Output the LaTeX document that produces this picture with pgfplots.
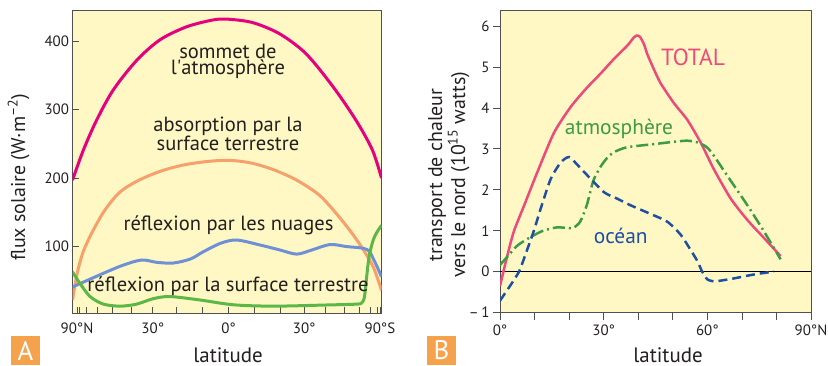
\documentclass[border=0pt]{standalone}
\usepackage{fontspec}
\setmainfont{PT Sans}
\newfontfamily\plainfont{PT Sans}
\usepackage{pgfplots}
\pgfplotsset{compat=1.18}
\definecolor{bg}{HTML}{FFF8C4}
\definecolor{magA}{HTML}{E5007D}
\definecolor{oraA}{HTML}{F6A06C}
\definecolor{bluA}{HTML}{7090D5}
\definecolor{grnA}{HTML}{5BB847}
\definecolor{pinkB}{HTML}{EB4A7B}
\definecolor{grnB}{HTML}{3D9B47}
\definecolor{bluB}{HTML}{1E4FA3}
\definecolor{txt}{HTML}{231F20}
\definecolor{axgray}{HTML}{505050}
\definecolor{labor}{HTML}{F6A24C}
\newcommand{\annot}{\fontsize{20.6}{16}\selectfont}
\newcommand{\annotB}{\fontsize{21.5}{21.5}\selectfont}
\newcommand{\tickf}{\fontsize{15}{15}\selectfont}
\begin{document}
\begin{tikzpicture}[x=1bp,y=1bp]
\useasboundingbox (0,0) rectangle (828,365);
% ---------------- Panel A
\begin{axis}[at={(72.5bp,52bp)}, anchor=south west, scale only axis,
  width=309bp, height=302bp,
  xmin=-1.03, xmax=1.01, ymin=3, ymax=444,
  axis background/.style={fill=bg},
  axis line style={draw=axgray, line width=1bp},
  tick align=inside, tick pos=left, major tick length=6bp,
  tick style={axgray, line width=0.8bp},
  xtick={-1,-0.98481,-0.93969,-0.86603,-0.76604,-0.64279,-0.5,-0.34202,-0.17365,0,0.17365,0.34202,0.5,0.64279,0.76604,0.86603,0.93969,0.98481,1},
  xticklabels={90°N,,,,,,30°,,,0°,,,30°,,,,,,90°S},
  ytick={100,200,300,400}, yticklabels={100,200,300,400},
  ticklabel style={font=\tickf, text=txt},
  xticklabel style={yshift=-6bp},
]
\addplot[magA, line width=3bp, smooth] coordinates {
(-1.03,197)(-0.958,241)(-0.87,285)(-0.76,329)(-0.606,372)(-0.452,402)(-0.276,421)(-0.1,431)(0,432)(0.16,427)(0.335,411)(0.51,382)(0.688,334)(0.84,285)(0.95,241)(1.01,200)};
\addplot[oraA, line width=3bp, smooth] coordinates {
(-1.03,22)(-1.0,60)(-0.96,92)(-0.9,121)(-0.82,152)(-0.72,179)(-0.6,196)(-0.45,210)(-0.3,219)(-0.15,224)(0,226)(0.15,222)(0.3,212)(0.45,197)(0.6,175)(0.72,146)(0.82,118)(0.9,92)(0.96,68)(1.01,36)};
\addplot[bluA, line width=3bp, smooth] coordinates {
(-1.03,41)(-0.826,61)(-0.694,73)(-0.573,80.4)(-0.474,77)(-0.364,76)(-0.25,82)(-0.166,92.5)(-0.05,105)(0.054,109.6)(0.208,102.3)(0.34,95)(0.45,89)(0.55,95)(0.67,103)(0.78,100)(0.89,97.5)(0.93,93)(0.956,82)(0.978,72)(1.01,56)};
\addplot[grnA, line width=3bp, smooth, tension=0.5] coordinates {
(-1.03,63)(-0.98,46)(-0.914,27)(-0.826,16)(-0.716,13)(-0.606,16)(-0.496,24)(-0.386,27)(-0.188,22)(0.032,15)(0.296,13)(0.648,14.7)(0.85,16)(0.88,18)(0.895,24)(0.905,40)(0.915,62)(0.93,88)(0.956,110)(0.98,121)(1.01,131)};
\end{axis}
% ---------------- Panel B
\begin{axis}[at={(500bp,52.5bp)}, anchor=south west, scale only axis,
  width=311bp, height=301.5bp,
  xmin=0, xmax=90, ymin=-1, ymax=6.37,
  axis background/.style={fill=bg},
  axis line style={draw=axgray, line width=1bp},
  tick align=outside, tick pos=left, major tick length=7bp,
  tick style={axgray, line width=0.8bp},
  xtick={0,10,...,90}, xticklabels={0°,,,30°,,,60°,,,90°N},
  ytick={-1,0,1,2,3,4,5,6}, yticklabels={–\,1,0,1,2,3,4,5,6},
  ticklabel style={font=\tickf, text=txt},
  xticklabel style={yshift=-2bp},
]
\addplot[black, line width=1.3bp] coordinates {(0,0)(90,0)};
\addplot[pinkB, line width=2.5bp, smooth, tension=0.4] coordinates {
(0,-0.35)(2,0.35)(4,0.98)(7,1.62)(10.8,2.43)(15.6,3.39)(20.5,4.03)(25,4.48)(29.1,4.84)(33,5.2)(36.8,5.52)(38.5,5.7)(39.5,5.77)(40.5,5.74)(41.7,5.55)(42.6,5.32)(44.5,4.95)(46.5,4.6)(50.4,4.11)(54.2,3.71)(58.1,3.15)(61.9,2.5)(66.8,1.78)(71.6,1.26)(76.4,0.82)(81.2,0.38)};
\addplot[grnB, line width=2.5bp, smooth, tension=0.4, dash pattern=on 12bp off 4bp on 2bp off 4bp] coordinates {
(0,0.16)(2.5,0.4)(4.8,0.62)(7,0.75)(9.6,0.88)(12.5,1.0)(16.4,1.08)(19,1.07)(21.2,1.07)(23.2,1.22)(25.1,1.62)(27,2.22)(29,2.55)(31,2.78)(33,2.92)(36.8,3.04)(45,3.12)(50,3.17)(54.2,3.2)(57.5,3.15)(60,3.03)(61.9,2.83)(65.8,2.34)(71.6,1.62)(76.4,0.98)(81.2,0.3)};
\addplot[bluB, line width=2.5bp, smooth, tension=0.4, dash pattern=on 9bp off 5bp] coordinates {
(0,-0.71)(2.5,-0.4)(5.5,0)(7.5,0.45)(9.8,1.0)(12,1.6)(14.7,2.27)(17.6,2.67)(20,2.8)(22.5,2.6)(25.3,2.35)(30.1,1.94)(34,1.78)(37.8,1.62)(43,1.43)(48.4,1.22)(52.3,0.9)(55,0.55)(57.1,0.26)(58.5,0)(60,-0.19)(62,-0.24)(63.9,-0.22)(67.5,-0.17)(71.6,-0.1)(75,-0.05)(79.3,0)};
\end{axis}
% ---------------- annotations
\begin{scope}[every node/.style={text=txt, inner sep=0pt}]
\node[font=\annot, align=center] at (228,303.5) {sommet de\\l{\plainfont '}atmosphère};
\node[font=\annot, align=center] at (228,231) {absorption par la\\surface terrestre};
\node[font=\annot, anchor=base] at (228.5,135) {réflexion par les nuages};
\node[font=\annot, anchor=base] at (228,73.5) {réflexion par la surface terrestre};
\node[font=\fontsize{21}{21}\selectfont, anchor=base] at (228,2.5) {latitude};
\node[font=\fontsize{21}{21}\selectfont, anchor=base] at (668,2.5) {latitude};
\node[font=\fontsize{20}{20}\selectfont, anchor=base, rotate=90] at (25,188) {flux solaire (W·m\textsuperscript{–2})};
\node[font=\fontsize{20}{20}\selectfont, anchor=base, rotate=90] at (442,190) {transport de chaleur};
\node[font=\fontsize{20}{20}\selectfont, anchor=base, rotate=90] at (465,190) {vers le nord (10\textsuperscript{15} watts)};
\node[font=\fontsize{23.5}{23.5}\selectfont, anchor=base, text=pinkB] at (693,300) {TOTAL};
\node[font=\annotB, anchor=base, text=grnB] at (619,230.5) {atmosphère};
\node[font=\annotB, anchor=base, text=bluB] at (620.7,121.7) {océan};
\end{scope}
% panel labels
\fill[labor] (11,0) rectangle (40,29);
\node[text=white, font=\fontsize{27}{27}\selectfont, inner sep=0pt] at (25.5,14.5) {A};
\fill[labor] (427,0) rectangle (456,29);
\node[text=white, font=\fontsize{27}{27}\selectfont, inner sep=0pt] at (441.5,14.5) {B};
\end{tikzpicture}
\end{document}
